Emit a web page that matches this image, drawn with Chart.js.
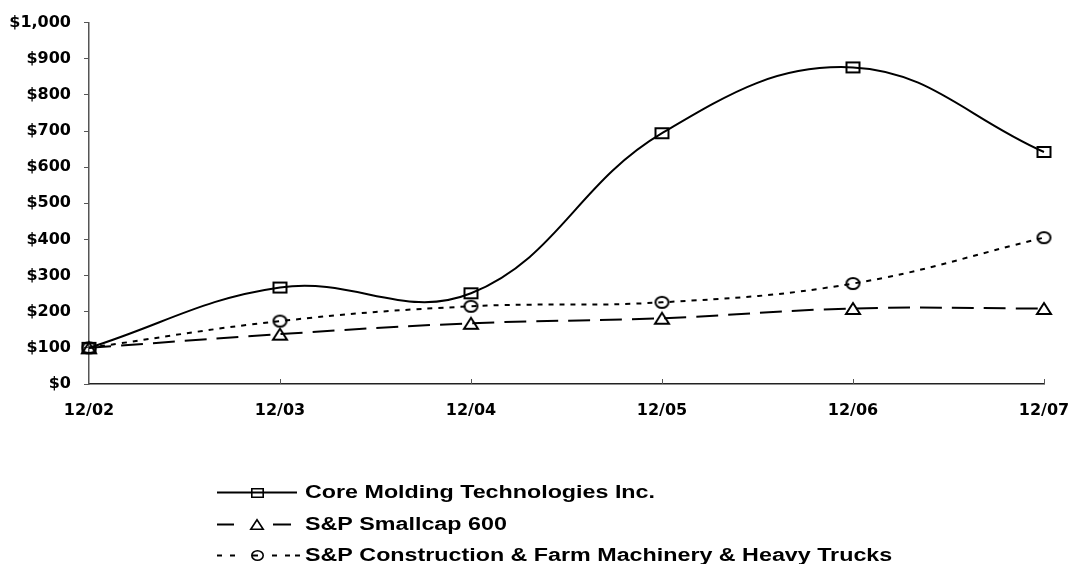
<!DOCTYPE html>
<html>
<head>
<meta charset="utf-8">
<script src="https://cdn.jsdelivr.net/npm/chart.js@4.4.1/dist/chart.umd.min.js"></script>
<style>
  html, body { margin: 0; padding: 0; background: #ffffff; }
  #wrap { width: 1070px; height: 564px; position: relative; }
</style>
</head>
<body>
<div id="wrap"><canvas id="c" width="1070" height="564"></canvas></div>
<script>
// ---- data ----
const categories = ['12/02', '12/03', '12/04', '12/05', '12/06', '12/07'];
const seriesNames = [
  'Core Molding Technologies Inc.',
  'S&P Smallcap 600',
  'S&P Construction & Farm Machinery & Heavy Trucks'
];
const coreMolding = [100, 267, 251, 694, 876, 642];
const smallcap600 = [100, 138, 168, 182, 209, 209];
const constructionFarm = [100, 174, 215, 226, 278, 405];
const yTickValues = [0, 100, 200, 300, 400, 500, 600, 700, 800, 900, 1000];

const FONT = "'DejaVu Sans', 'Liberation Sans', Arial, sans-serif";
const LFONT = "'Liberation Sans', Arial, sans-serif";

// ---- marker images (hollow, slightly wide like the original) ----
function marker(kind, w, h, lw) {
  const c = document.createElement('canvas');
  c.width = w + 4; c.height = h + 4;
  const g = c.getContext('2d');
  g.strokeStyle = '#000';
  g.lineWidth = lw;
  const x0 = 2, y0 = 2;
  g.beginPath();
  if (kind === 'square') {
    g.rect(x0 + lw / 2, y0 + lw / 2, w - lw, h - lw);
  } else if (kind === 'triangle') {
    g.moveTo(x0 + w / 2, y0 + lw / 2);
    g.lineTo(x0 + w - lw / 2, y0 + h - lw / 2);
    g.lineTo(x0 + lw / 2, y0 + h - lw / 2);
    g.closePath();
  } else {
    g.ellipse(x0 + w / 2, y0 + h / 2, w / 2 - lw / 2, h / 2 - lw / 2, 0, 0, Math.PI * 2);
  }
  g.stroke();
  return c;
}
const markerImgs = [marker('square', 15, 12, 2), marker('triangle', 16, 13, 2), marker('circle', 15, 13, 2)];
const legendImgs = [marker('square', 13, 10, 1.6), marker('triangle', 14, 11, 1.6), marker('circle', 13, 11, 1.6)];

const dashes = [[], [22, 10], [5, 6]];

function ds(i, data) {
  return {
    label: seriesNames[i],
    data: data,
    borderColor: '#000000',
    backgroundColor: 'rgba(0,0,0,0)',
    borderWidth: 2,
    borderDash: dashes[i],
    tension: 0.4,
    pointStyle: markerImgs[i],
    pointRadius: 8,
    pointHoverRadius: 8,
    fill: false
  };
}

// inner tick marks on the x axis, drawn from the library's scale
const innerTicks = {
  id: 'innerTicks',
  afterDatasetsDraw(chart) {
    const ctx = chart.ctx, x = chart.scales.x, area = chart.chartArea;
    ctx.save();
    ctx.strokeStyle = '#555555';
    ctx.lineWidth = 1;
    ctx.setLineDash([]);
    for (let i = 1; i < categories.length; i++) {
      const px = Math.round(x.getPixelForValue(i)) + 0.5;
      ctx.beginPath();
      ctx.moveTo(px, area.bottom);
      ctx.lineTo(px, area.bottom - 5);
      ctx.stroke();
    }
    ctx.restore();
  }
};

// legend: line sample with marker in the middle, label to the right
const sampleLegend = {
  id: 'sampleLegend',
  afterDraw(chart) {
    const ctx = chart.ctx;
    const xm = 257, xt = 305;
    const rows = [492, 524, 555];
    const segs = [
      [[217, 297]],
      [[217, 234], [273, 291]],
      [[217, 222], [230, 235], [272, 277], [285, 290], [295, 300]]
    ];
    ctx.save();
    chart.data.datasets.forEach((d, i) => {
      const y = rows[i] + 0.5;
      ctx.strokeStyle = '#000';
      ctx.lineWidth = 2;
      ctx.setLineDash([]);
      segs[i].forEach(s => {
        ctx.beginPath();
        ctx.moveTo(s[0], y);
        ctx.lineTo(s[1], y);
        ctx.stroke();
      });
      if (i === 2) {
        ctx.beginPath(); ctx.moveTo(252, y); ctx.lineTo(258, y); ctx.stroke();
      }
      const im = legendImgs[i];
      ctx.drawImage(im, Math.round(xm - im.width / 2), Math.round(y - im.height / 2));
      ctx.fillStyle = '#000';
      ctx.font = 'bold 17.5px ' + LFONT;
      ctx.textBaseline = 'middle';
      ctx.textAlign = 'left';
      ctx.save();
      ctx.translate(xt, y + 1);
      ctx.scale(1.33, 1);
      ctx.fillText(d.label, 0, 0);
      ctx.restore();
    });
    ctx.restore();
  }
};

new Chart(document.getElementById('c'), {
  type: 'line',
  data: {
    labels: categories,
    datasets: [ds(0, coreMolding), ds(1, smallcap600), ds(2, constructionFarm)]
  },
  options: {
    responsive: false,
    devicePixelRatio: 1,
    animation: false,
    events: [],
    layout: { padding: { left: 0, top: 21, right: 26, bottom: 140 } },
    plugins: { legend: { display: false }, tooltip: { enabled: false } },
    scales: {
      x: {
        type: 'category',
        offset: false,
        grid: { display: false, drawTicks: false },
        border: { display: true, color: '#222222', width: 1.5 },
        ticks: {
          color: '#000',
          font: { family: FONT, size: 16, weight: 'bold' },
          padding: 17,
          maxRotation: 0,
          autoSkip: false
        },
        afterFit(s) { s.height = 40; s.paddingLeft = 0; s.paddingRight = 0; }
      },
      y: {
        min: 0,
        max: 1000,
        afterBuildTicks(s) { s.ticks = yTickValues.map(v => ({ value: v })); },
        grid: { drawOnChartArea: false, drawTicks: true, tickLength: 5, color: '#555555' },
        border: { display: true, color: '#555555', width: 1.5 },
        ticks: {
          color: '#000',
          font: { family: FONT, size: 16, weight: 'bold' },
          padding: 13,
          callback: v => '$' + Number(v).toLocaleString('en-US')
        },
        afterFit(s) { s.width = 89; }
      }
    }
  },
  plugins: [innerTicks, sampleLegend]
});
</script>
</body>
</html>
